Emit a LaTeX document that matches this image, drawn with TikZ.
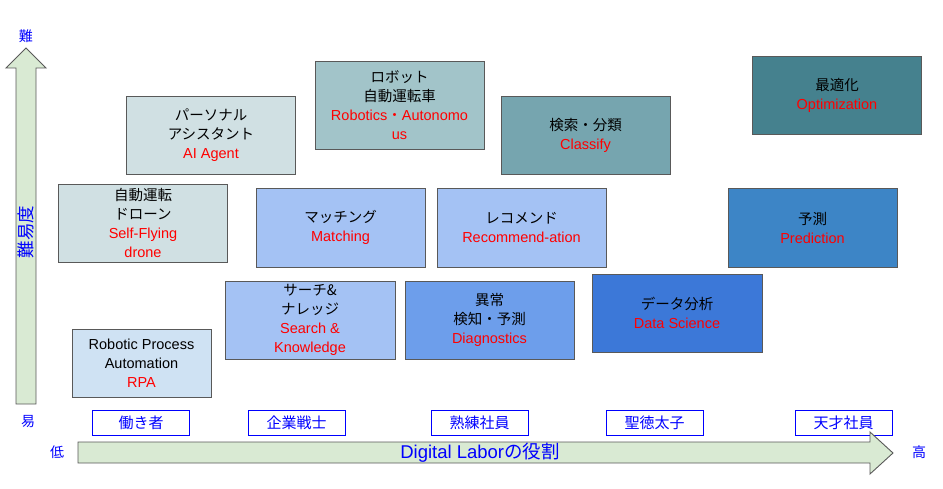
\documentclass[tikz,border=0pt]{standalone}
\usepackage{fontspec}
\setmainfont{Liberation Sans}
\newfontfamily\jpfont{Noto Sans CJK JP}
\definecolor{linha}{HTML}{595959}
\definecolor{verdeclaro}{HTML}{D9EAD3}
\definecolor{azulclaro}{HTML}{CFE2F3}
\definecolor{cianoclaro}{HTML}{D0E0E3}
\definecolor{ciano}{HTML}{A2C4C9}
\definecolor{cianomedio}{HTML}{76A5AF}
\definecolor{cianoescuro}{HTML}{45818E}
\definecolor{azul1}{HTML}{A4C2F4}
\definecolor{azul2}{HTML}{6D9EEB}
\definecolor{azul3}{HTML}{3C78D8}
\definecolor{azul4}{HTML}{3D85C6}
\definecolor{vermelho}{HTML}{FF0000}
\definecolor{azultexto}{HTML}{0000FF}

\begin{document}
\begin{tikzpicture}[x=1pt,y=-1pt,
    caixa/.style={draw=linha,line width=0.9pt,align=center,inner sep=0pt,minimum width=169pt,minimum height=78pt,font=\fontsize{14.5}{19}\selectfont},
    papel/.style={draw=azultexto,fill=white,line width=0.9pt,minimum width=97pt,minimum height=25pt,inner sep=0pt,text=azultexto,font=\jpfont\fontsize{15}{18}\selectfont},
    eixo/.style={text=azultexto,inner sep=0pt,font=\jpfont\fontsize{14}{16}\selectfont},
    seta/.style={draw=linha,fill=verdeclaro,line width=0.9pt}]
    \useasboundingbox (0,0) rectangle (943,489);

    % seta vertical
    \draw[seta] (16,404) -- (16,68) -- (6,68) -- (26,48) -- (46,68) -- (36,68) -- (36,404) -- cycle;
    \node[eixo] (dificil) at (26,36) {難};
    \node[eixo,rotate=90,font=\jpfont\fontsize{17.5}{20}\selectfont] (dificuldade) at (26,232) {難易度};
    \node[eixo] (facil) at (28,422) {易};

    % caixas
    \node[caixa,fill=azulclaro,minimum width=139pt,minimum height=68pt] (rpa) at (141.5,363) {Robotic Process\\Automation\\\textcolor{vermelho}{RPA}};
    \node[caixa,fill=cianoclaro] (drone) at (143,223) {{\jpfont 自動運転}\\{\jpfont ドローン}\\\textcolor{vermelho}{Self-Flying}\\\textcolor{vermelho}{drone}};
    \node[caixa,fill=cianoclaro] (agente) at (211,135) {{\jpfont パーソナル}\\{\jpfont アシスタント}\\\textcolor{vermelho}{AI Agent}};
    \node[caixa,fill=ciano,minimum height=88pt] (robotica) at (399.5,105) {{\jpfont ロボット}\\{\jpfont 自動運転車}\\\textcolor{vermelho}{Robotics{\jpfont ・}Autonomo}\\\textcolor{vermelho}{us}};
    \node[caixa,fill=cianomedio] (classifica) at (585.5,135) {{\jpfont 検索・分類}\\\textcolor{vermelho}{Classify}};
    \node[caixa,fill=cianoescuro] (otimiza) at (837,95) {{\jpfont 最適化}\\\textcolor{vermelho}{Optimization}};
    \node[caixa,fill=azul1,minimum height=79pt] (matching) at (340.5,227.5) {{\jpfont マッチング}\\\textcolor{vermelho}{Matching}};
    \node[caixa,fill=azul1,minimum height=79pt] (recomenda) at (521.5,227.5) {{\jpfont レコメンド}\\\textcolor{vermelho}{Recommend-ation}};
    \node[caixa,fill=azul4,minimum height=79pt] (previsao) at (812.5,227.5) {{\jpfont 予測}\\\textcolor{vermelho}{Prediction}};
    \node[caixa,fill=azul1,minimum width=170pt] (busca) at (310,320) {{\jpfont サーチ\&}\\{\jpfont ナレッジ}\\\textcolor{vermelho}{Search \&}\\\textcolor{vermelho}{Knowledge}};
    \node[caixa,fill=azul2] (diagnostico) at (489.5,320) {{\jpfont 異常}\\{\jpfont 検知・予測}\\\textcolor{vermelho}{Diagnostics}};
    \node[caixa,fill=azul3,minimum width=170pt] (dados) at (677,313) {{\jpfont データ分析}\\\textcolor{vermelho}{Data Science}};

    % papeis
    \node[papel] (p1) at (141,422.5) {働き者};
    \node[papel] (p2) at (296.5,422.5) {企業戦士};
    \node[papel] (p3) at (479.5,422.5) {熟練社員};
    \node[papel] (p4) at (654.5,422.5) {聖徳太子};
    \node[papel] (p5) at (843.5,422.5) {天才社員};

    % seta horizontal
    \draw[seta] (78,442) -- (870,442) -- (870,432) -- (893,453) -- (870,474) -- (870,463) -- (78,463) -- cycle;
    \node[eixo,font=\fontsize{18.5}{20}\selectfont] (labor) at (480,453) {Digital Labor{\jpfont の役割}};
    \node[eixo] (baixo) at (57,452) {低};
    \node[eixo] (alto) at (919,452) {高};
\end{tikzpicture}
\end{document}
